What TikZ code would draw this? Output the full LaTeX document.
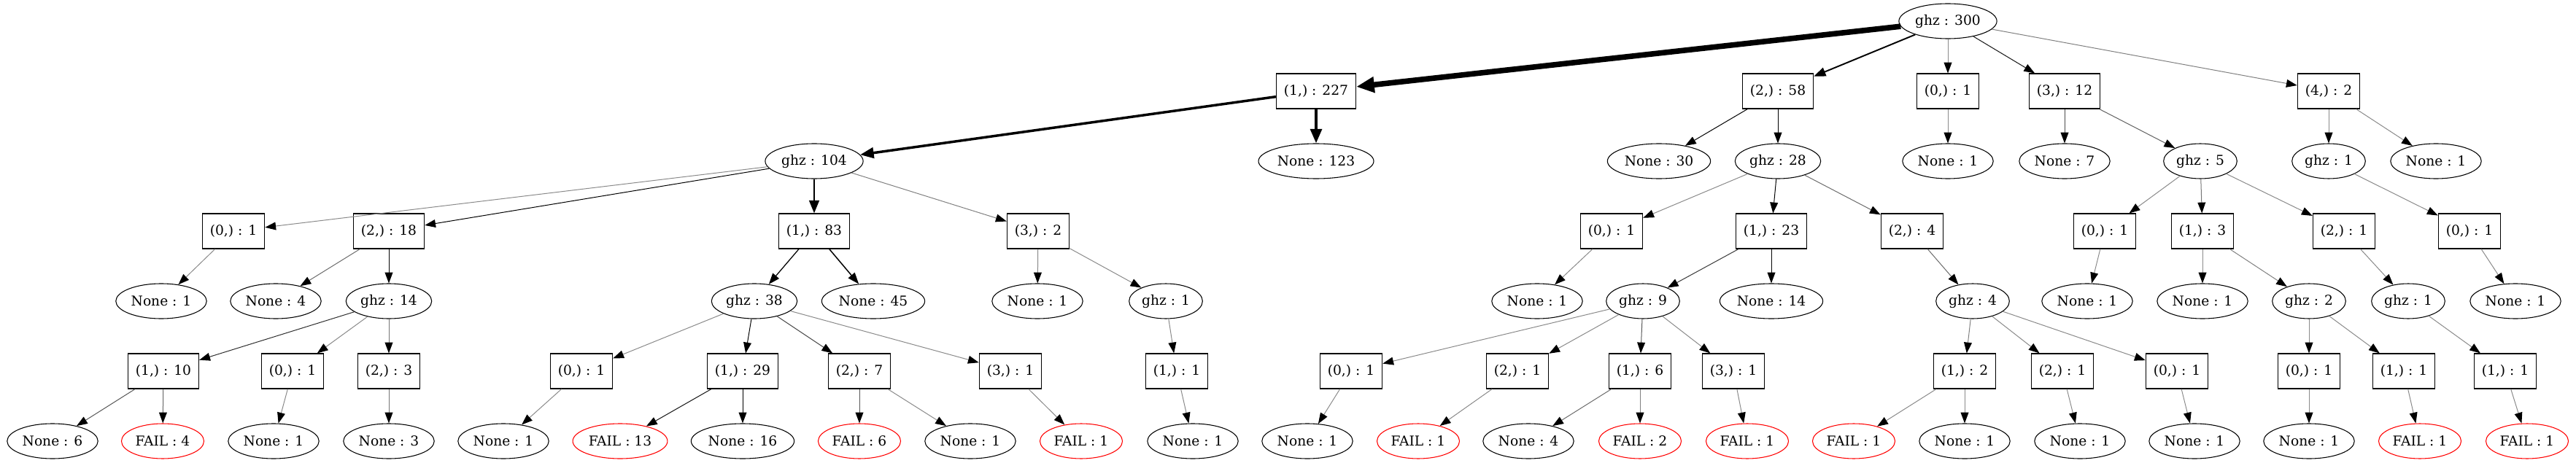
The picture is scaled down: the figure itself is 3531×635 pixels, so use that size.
\documentclass[tikz,border=0pt]{standalone}
\usepackage{fontspec}
\setmainfont{DejaVu Serif}
\usetikzlibrary{shapes.geometric,arrows.meta}
\tikzset{
  ell/.style={ellipse, draw, line width=0.8pt, minimum height=36pt, inner xsep=2pt, inner ysep=0pt},
  fail/.style={ell, draw=red},
  bx/.style={rectangle, draw, line width=0.8pt, minimum height=36pt, inner xsep=7.9pt},
}
\newcommand\edg[3]{%
  \pgfmathsetmacro\lw{max(0.75,#3/40)}%
  \pgfmathtruncatemacro\gp{min(100,42+4*#3)}%
  \draw[line width=\lw pt, draw=black!\gp, -{Triangle[length=10pt 1.5,width=7pt 1.5,color=black]}] (#1) -- (#2);}
\begin{document}
\begin{tikzpicture}[x=0.75pt,y=-0.75pt,font=\fontsize{14}{16}\selectfont]
\useasboundingbox (0,0) rectangle (3531,635);
% level 0
\node[ell] (r) at (2670,29) {ghz : 300};
% level 1
\node[bx] (a1) at (1804,125) {(1,) : 227};
\node[bx] (a2) at (2437,125) {(2,) : 58};
\node[bx] (a0) at (2670,125) {(0,) : 1};
\node[bx] (a3) at (2830,125) {(3,) : 12};
\node[bx] (a4) at (3192,125) {(4,) : 2};
% level 2
\node[ell] (b1) at (1116,221) {ghz : 104};
\node[ell] (b2) at (1804,221) {None : 123};
\node[ell] (b3) at (2274,221) {None : 30};
\node[ell] (b4) at (2437,221) {ghz : 28};
\node[ell] (b5) at (2670,221) {None : 1};
\node[ell] (b6) at (2830,221) {None : 7};
\node[ell] (b7) at (3016,221) {ghz : 5};
\node[ell] (b8) at (3192,221) {ghz : 1};
\node[ell] (b9) at (3339,221) {None : 1};
% level 3
\node[bx] (c1) at (320,317) {(0,) : 1};
\node[bx] (c2) at (533,317) {(2,) : 18};
\node[bx] (c3) at (1116,317) {(1,) : 83};
\node[bx] (c4) at (1423,317) {(3,) : 2};
\node[bx] (c5) at (2209,317) {(0,) : 1};
\node[bx] (c6) at (2428,317) {(1,) : 23};
\node[bx] (c7) at (2621,317) {(2,) : 4};
\node[bx] (c8) at (2885,317) {(0,) : 1};
\node[bx] (c9) at (3019,317) {(1,) : 3};
\node[bx] (c10) at (3213,317) {(2,) : 1};
\node[bx] (c11) at (3385,317) {(0,) : 1};
% level 4
\node[ell] (d1) at (221,413) {None : 1};
\node[ell] (d2) at (378,413) {None : 4};
\node[ell] (d3) at (533,413) {ghz : 14};
\node[ell] (d4) at (1034,413) {ghz : 38};
\node[ell] (d5) at (1197,413) {None : 45};
\node[ell] (d6) at (1422,413) {None : 1};
\node[ell] (d7) at (1598,413) {ghz : 1};
\node[ell] (d8) at (2107,413) {None : 1};
\node[ell] (d9) at (2252,413) {ghz : 9};
\node[ell] (d10) at (2428,413) {None : 14};
\node[ell] (d11) at (2704,413) {ghz : 4};
\node[ell] (d12) at (2861,413) {None : 1};
\node[ell] (d13) at (3019,413) {None : 1};
\node[ell] (d14) at (3165,413) {ghz : 2};
\node[ell] (d15) at (3301,413) {ghz : 1};
\node[ell] (d16) at (3448,413) {None : 1};
% level 5
\node[bx] (e1) at (224,509) {(1,) : 10};
\node[bx] (e2) at (401,509) {(0,) : 1};
\node[bx] (e3) at (533,509) {(2,) : 3};
\node[bx] (e4) at (797,509) {(0,) : 1};
\node[bx] (e5) at (1018,509) {(1,) : 29};
\node[bx] (e6) at (1178,509) {(2,) : 7};
\node[bx] (e7) at (1385,509) {(3,) : 1};
\node[bx] (e8) at (1613,509) {(1,) : 1};
\node[bx] (e9) at (1852,509) {(0,) : 1};
\node[bx] (e10) at (2080,509) {(2,) : 1};
\node[bx] (e11) at (2248,509) {(1,) : 6};
\node[bx] (e12) at (2376,509) {(3,) : 1};
\node[bx] (e13) at (2693,509) {(1,) : 2};
\node[bx] (e14) at (2827,509) {(2,) : 1};
\node[bx] (e15) at (2984,509) {(0,) : 1};
\node[bx] (e16) at (3165,509) {(0,) : 1};
\node[bx] (e17) at (3295,509) {(1,) : 1};
\node[bx] (e18) at (3434,509) {(1,) : 1};
% level 6
\node[ell] (f1) at (72,605) {None : 6};
\node[fail] (f2) at (223,605) {FAIL : 4};
\node[ell] (f3) at (375,605) {None : 1};
\node[ell] (f4) at (533,605) {None : 3};
\node[ell] (f5) at (690,605) {None : 1};
\node[fail] (f6) at (850,605) {FAIL : 13};
\node[ell] (f7) at (1018,605) {None : 16};
\node[fail] (f8) at (1178,605) {FAIL : 6};
\node[ell] (f9) at (1330,605) {None : 1};
\node[fail] (f10) at (1482,605) {FAIL : 1};
\node[ell] (f11) at (1635,605) {None : 1};
\node[ell] (f12) at (1792,605) {None : 1};
\node[fail] (f13) at (1944,605) {FAIL : 1};
\node[ell] (f14) at (2095,605) {None : 4};
\node[fail] (f15) at (2248,605) {FAIL : 2};
\node[fail] (f16) at (2395,605) {FAIL : 1};
\node[fail] (f17) at (2541,605) {FAIL : 1};
\node[ell] (f18) at (2693,605) {None : 1};
\node[ell] (f19) at (2851,605) {None : 1};
\node[ell] (f20) at (3008,605) {None : 1};
\node[ell] (f21) at (3165,605) {None : 1};
\node[fail] (f22) at (3317,605) {FAIL : 1};
\node[fail] (f23) at (3464,605) {FAIL : 1};
% edges
\edg{r}{a1}{227}\edg{r}{a2}{58}\edg{r}{a0}{1}\edg{r}{a3}{12}\edg{r}{a4}{2}
\edg{a1}{b1}{104}\edg{a1}{b2}{123}\edg{a2}{b3}{30}\edg{a2}{b4}{28}
\edg{a0}{b5}{1}\edg{a3}{b6}{7}\edg{a3}{b7}{5}\edg{a4}{b8}{1}\edg{a4}{b9}{1}
\edg{b1}{c1}{1}\edg{b1}{c2}{18}\edg{b1}{c3}{83}\edg{b1}{c4}{2}
\edg{b4}{c5}{1}\edg{b4}{c6}{23}\edg{b4}{c7}{4}
\edg{b7}{c8}{1}\edg{b7}{c9}{3}\edg{b7}{c10}{1}\edg{b8}{c11}{1}
\edg{c1}{d1}{1}\edg{c2}{d2}{4}\edg{c2}{d3}{14}\edg{c3}{d4}{38}\edg{c3}{d5}{45}
\edg{c4}{d6}{1}\edg{c4}{d7}{1}\edg{c5}{d8}{1}\edg{c6}{d9}{9}\edg{c6}{d10}{14}
\edg{c7}{d11}{4}\edg{c8}{d12}{1}\edg{c9}{d13}{1}\edg{c9}{d14}{2}\edg{c10}{d15}{1}\edg{c11}{d16}{1}
\edg{d3}{e1}{10}\edg{d3}{e2}{1}\edg{d3}{e3}{3}
\edg{d4}{e4}{1}\edg{d4}{e5}{29}\edg{d4}{e6}{7}\edg{d4}{e7}{1}
\edg{d7}{e8}{1}
\edg{d9}{e9}{1}\edg{d9}{e10}{1}\edg{d9}{e11}{6}\edg{d9}{e12}{1}
\edg{d11}{e13}{2}\edg{d11}{e14}{1}\edg{d11}{e15}{1}
\edg{d14}{e16}{1}\edg{d14}{e17}{1}\edg{d15}{e18}{1}
\edg{e1}{f1}{6}\edg{e1}{f2}{4}\edg{e2}{f3}{1}\edg{e3}{f4}{3}\edg{e4}{f5}{1}
\edg{e5}{f6}{13}\edg{e5}{f7}{16}\edg{e6}{f8}{6}\edg{e6}{f9}{1}\edg{e7}{f10}{1}
\edg{e8}{f11}{1}\edg{e9}{f12}{1}\edg{e10}{f13}{1}\edg{e11}{f14}{4}\edg{e11}{f15}{2}
\edg{e12}{f16}{1}\edg{e13}{f17}{1}\edg{e13}{f18}{1}\edg{e14}{f19}{1}\edg{e15}{f20}{1}
\edg{e16}{f21}{1}\edg{e17}{f22}{1}\edg{e18}{f23}{1}
\end{tikzpicture}
\end{document}
